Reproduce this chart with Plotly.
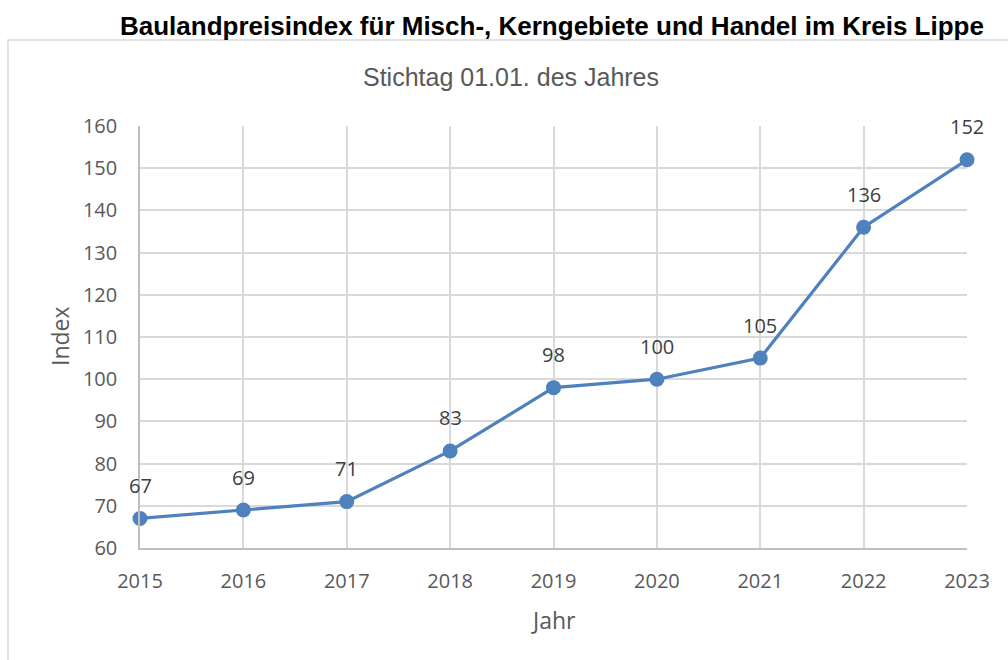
import plotly.graph_objects as go

years = [2015, 2016, 2017, 2018, 2019, 2020, 2021, 2022, 2023]
index_values = [67, 69, 71, 83, 98, 100, 105, 136, 152]
y_ticks = [60, 70, 80, 90, 100, 110, 120, 130, 140, 150, 160]

TICK_FONT = "Open Sans, Noto Sans, sans-serif"
line_color = "#4f81bd"

# plot area in pixels
L, R, T, B = 140, 967, 126, 548
W, H = 1008, 660
PW, PH = R - L, B - T


def px_x(x):
    return (x - L) / PW


def px_y(y):
    return (B - y) / PH


fig = go.Figure()
fig.add_trace(go.Scatter(
    x=years, y=index_values, mode="lines+markers",
    line=dict(color=line_color, width=3.2),
    marker=dict(color=line_color, size=15),
    hoverinfo="x+y", showlegend=False, cliponaxis=False,
))

annotations = []
for xv, yv in zip(years, index_values):
    annotations.append(dict(
        x=xv, y=yv, xref="x", yref="y", text=str(yv), showarrow=False,
        yshift=33, font=dict(family=TICK_FONT, size=20, color="#404040"),
    ))

annotations.append(dict(
    x=px_x(552), y=px_y(26), xref="paper", yref="paper",
    text="<b>Baulandpreisindex für Misch-, Kerngebiete und Handel im Kreis Lippe</b>",
    showarrow=False, xanchor="center", yanchor="middle",
    font=dict(family="Liberation Sans, Arial", size=26, color="#000000"),
))
annotations.append(dict(
    x=px_x(511), y=px_y(77), xref="paper", yref="paper",
    text="Stichtag 01.01. des Jahres", showarrow=False, xanchor="center", yanchor="middle",
    font=dict(family="Liberation Sans, Arial", size=25, color="#595959"),
))
annotations.append(dict(
    x=px_x(553), y=px_y(620), xref="paper", yref="paper",
    text="Jahr", showarrow=False, xanchor="center", yanchor="middle",
    font=dict(family=TICK_FONT, size=23, color="#595959"),
))
annotations.append(dict(
    x=px_x(60), y=px_y(336), xref="paper", yref="paper",
    text="Index", showarrow=False, xanchor="center", yanchor="middle", textangle=-90,
    font=dict(family=TICK_FONT, size=23, color="#595959"),
))

fig.update_layout(
    width=W, height=H,
    margin=dict(l=L, r=W - R, t=T, b=H - B, autoexpand=False),
    paper_bgcolor="white", plot_bgcolor="white",
    annotations=annotations,
    shapes=[dict(type="rect", xref="paper", yref="paper",
                 x0=px_x(8), x1=px_x(1100), y0=px_y(700), y1=px_y(40),
                 line=dict(color="#d9d9d9", width=1.5), layer="below")],
    xaxis=dict(
        range=[2015, 2023], tickmode="array", tickvals=years, ticktext=[str(y) for y in years],
        showgrid=True, gridcolor="#d9d9d9", gridwidth=1.5,
        showline=True, linecolor="#bfbfbf", linewidth=1.5,
        ticks="", zeroline=False, ticklabelstandoff=14,
        tickfont=dict(family=TICK_FONT, size=20, color="#595959"),
    ),
    yaxis=dict(
        range=[60, 160], tickmode="array", tickvals=y_ticks,
        showgrid=True, gridcolor="#d9d9d9", gridwidth=1.5,
        showline=True, linecolor="#bfbfbf", linewidth=1.5,
        ticks="", zeroline=False, ticklabelstandoff=17,
        tickfont=dict(family=TICK_FONT, size=20, color="#595959"),
    ),
)

fig.write_html(
    "out.html",
    config={"displayModeBar": False},
    post_script="document.body.style.margin='0';document.body.style.overflow='hidden';",
)
